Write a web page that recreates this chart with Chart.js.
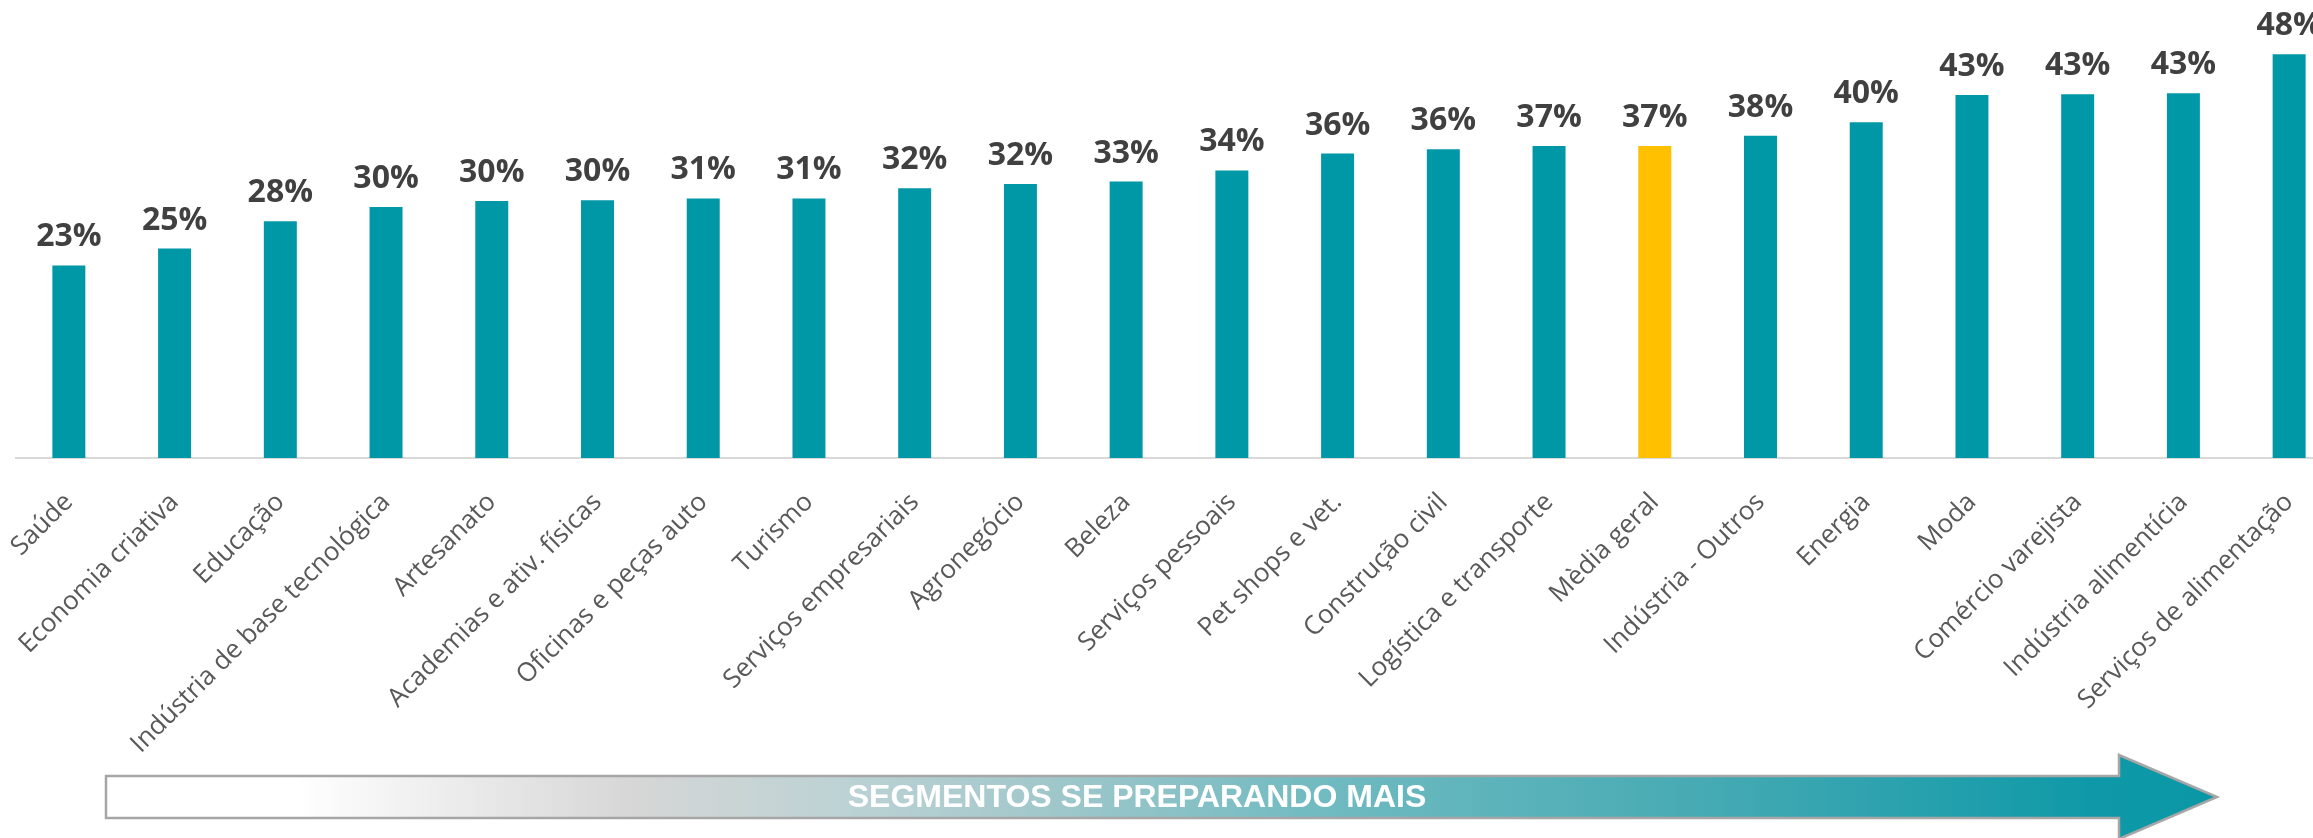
<!DOCTYPE html>
<html><head><meta charset="utf-8">
<script src="https://cdn.jsdelivr.net/npm/chart.js@4.4.1/dist/chart.umd.min.js"></script>
<style>
html,body{margin:0;padding:0;overflow:hidden;background:#fff;width:2313px;height:838px}
#wrap{position:absolute;left:0;top:0;width:2342px;height:838px}
</style></head><body>
<div id="wrap"><canvas id="c" width="2342" height="838"></canvas></div>
<script>
const categories = ['Saúde','Economia criativa','Educação','Indústria de base tecnológica','Artesanato','Academias e ativ. físicas','Oficinas e peças auto','Turismo','Serviços empresariais','Agronegócio','Beleza','Serviços pessoais','Pet shops e vet.','Construção civil','Logística e transporte','Mèdia geral','Indústria - Outros','Energia','Moda','Comércio varejista','Indústria alimentícia','Serviços de alimentação'];
const values = [22.7,24.7,27.9,29.6,30.3,30.4,30.6,30.6,31.8,32.3,32.6,33.9,35.9,36.4,36.8,36.8,38.0,39.6,42.8,42.9,43.0,47.6];
const highlightCategory = 'Mèdia geral';
const arrowText = 'SEGMENTOS SE PREPARANDO MAIS';

const TEAL = '#0097A7', GOLD = '#FFC000';
const colors = categories.map(c => c === highlightCategory ? GOLD : TEAL);

const dataLabelPlugin = {
  id: 'dataLabels',
  afterDatasetsDraw(chart) {
    const ctx = chart.ctx;
    const meta = chart.getDatasetMeta(0);
    ctx.save();
    ctx.font = 'bold 32px "Open Sans"';
    ctx.fillStyle = '#404040';
    ctx.textAlign = 'center';
    ctx.textBaseline = 'alphabetic';
    meta.data.forEach((bar, i) => {
      ctx.fillText(Math.round(values[i]) + '%', bar.x, bar.y - 19);
    });
    ctx.restore();
  }
};

const arrowPlugin = {
  id: 'arrow',
  afterDraw(chart) {
    const ctx = chart.ctx;
    const x0 = 106, x1 = 2119, xt = 2217, yc = 797, bh = 21, hh = 42;
    ctx.save();
    ctx.beginPath();
    ctx.moveTo(x0, yc - bh);
    ctx.lineTo(x1, yc - bh);
    ctx.lineTo(x1, yc - hh);
    ctx.lineTo(xt, yc);
    ctx.lineTo(x1, yc + hh);
    ctx.lineTo(x1, yc + bh);
    ctx.lineTo(x0, yc + bh);
    ctx.closePath();
    const g = ctx.createLinearGradient(x0, 0, xt, 0);
    g.addColorStop(0, '#ffffff');
    g.addColorStop(0.09, '#ffffff');
    g.addColorStop(0.25, '#d6d6d6');
    g.addColorStop(0.35, '#bcd2d4');
    g.addColorStop(0.43, '#a6c9cc');
    g.addColorStop(0.57, '#72bbc1');
    g.addColorStop(0.76, '#45aab3');
    g.addColorStop(0.94, '#0f99a8');
    g.addColorStop(1, '#0a97a5');
    ctx.fillStyle = g;
    ctx.fill();
    ctx.strokeStyle = '#a6a6a6';
    ctx.lineWidth = 2.5;
    ctx.stroke();
    ctx.font = 'bold 32px "Liberation Sans", Arial, sans-serif';
    ctx.fillStyle = '#ffffff';
    ctx.textAlign = 'center';
    ctx.textBaseline = 'middle';
    ctx.fillText(arrowText, 1137, yc + 1);
    ctx.restore();
  }
};

function draw() {
  new Chart(document.getElementById('c'), {
    type: 'bar',
    data: {
      labels: categories,
      datasets: [{
        data: values,
        backgroundColor: colors,
        borderWidth: 0,
        barPercentage: 0.312,
        categoryPercentage: 1
      }]
    },
    options: {
      responsive: false,
      devicePixelRatio: 1,
      animation: false,
      layout: { padding: { left: 16, right: 0, top: 0, bottom: 0 } },
      plugins: { legend: { display: false }, tooltip: { enabled: false } },
      scales: {
        x: {
          offset: true,
          grid: { display: false, drawTicks: false },
          border: { display: true, color: '#d9d9d9', width: 2 },
          ticks: {
            autoSkip: false, maxRotation: 45, minRotation: 45,
            color: '#595959', padding: 29, labelOffset: 0,
            font: { family: 'Open Sans', size: 26 }
          },
          afterFit: s => { s.height = 380; s.paddingLeft = 0; s.paddingRight = 0; }
        },
        y: { display: false, min: 0, max: 54 }
      }
    },
    plugins: [dataLabelPlugin, arrowPlugin]
  });
}
if (document.fonts && document.fonts.load) {
  Promise.all([
    document.fonts.load('bold 32px "Open Sans"'),
    document.fonts.load('26px "Open Sans"'),
    document.fonts.load('bold 32px "Liberation Sans"')
  ]).then(draw, draw);
} else { draw(); }
</script>
</body></html>
